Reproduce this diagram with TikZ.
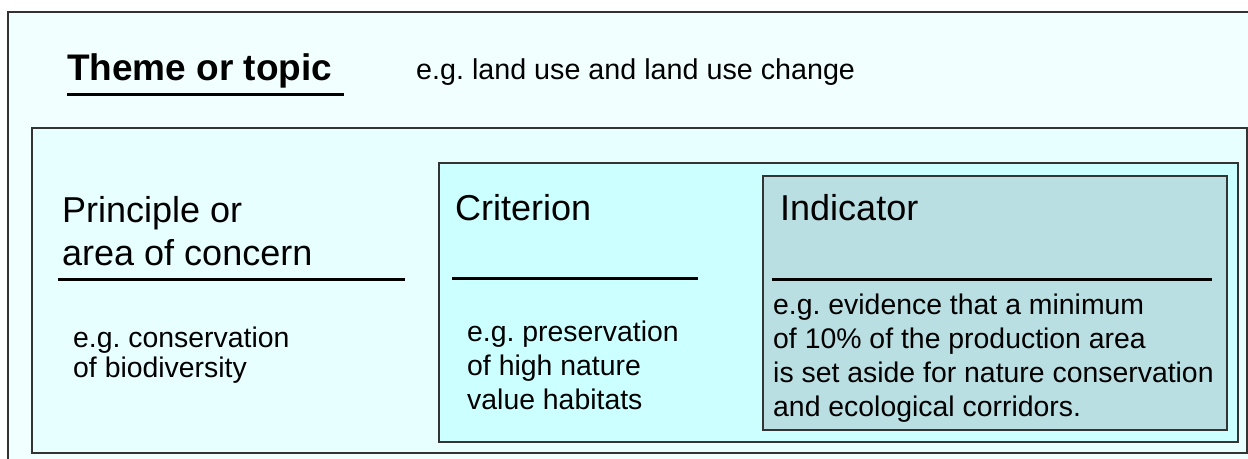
\documentclass[tikz,border=0pt]{standalone}
\usepackage{fontspec}
\setmainfont{Liberation Sans}
\frenchspacing
\definecolor{themefill}{HTML}{F2FFFF}
\definecolor{principlefill}{HTML}{E8FFFF}
\definecolor{criterionfill}{HTML}{CCFFFF}
\definecolor{indicatorfill}{HTML}{B9DFE2}
\begin{document}
\begin{tikzpicture}[x=1pt, y=-1pt,
    every node/.style={inner sep=0pt, anchor=base west, align=left},
    boxline/.style={draw=black!80, line width=1.5pt},
    bar/.style={black, line width=3pt},
    headfont/.style={font=\fontsize{36}{43}\selectfont},
    bodyfont/.style={font=\fontsize{28.4}{34}\selectfont}]
    \path [use as bounding box, clip] (0,0) rectangle (1248,458);
    \draw [boxline, fill=themefill] (8,12) rectangle (1260,470);
    \draw [boxline, fill=principlefill] (32,128) rectangle (1247,453);
    \draw [boxline, fill=criterionfill] (439,163) rectangle (1238,442);
    \draw [boxline, fill=indicatorfill] (763,176) rectangle (1227,430);
    \node (theme) at (67,80) [font=\fontsize{37}{44}\selectfont\bfseries] {Theme or topic};
    \draw [bar] (67,94) -- (344,94);
    \node (themeeg) at (416,79) [font=\fontsize{28.7}{34}\selectfont] {e.g. land use and land use change};
    \node (principle) at (62,265) [headfont] {Principle or\\area of concern};
    \draw [bar] (58,279) -- (405,279);
    \node (principleeg) at (73,377) [font=\fontsize{28.4}{30}\selectfont] {e.g. conservation\\of biodiversity};
    \node (criterion) at (455,220) [headfont] {Criterion};
    \draw [bar] (452,278) -- (698,278);
    \node (criterioneg) at (467,409) [bodyfont] {e.g. preservation\\of high nature\\value habitats};
    \node (indicator) at (780,220) [headfont] {Indicator};
    \draw [bar] (772,279) -- (1212,279);
    \node (indicatoreg) at (773,416) [font=\fontsize{28.4}{33.7}\selectfont] {e.g. evidence that a minimum\\of 10\% of the production area\\is set aside for nature conservation\\and ecological corridors.};
\end{tikzpicture}
\end{document}
